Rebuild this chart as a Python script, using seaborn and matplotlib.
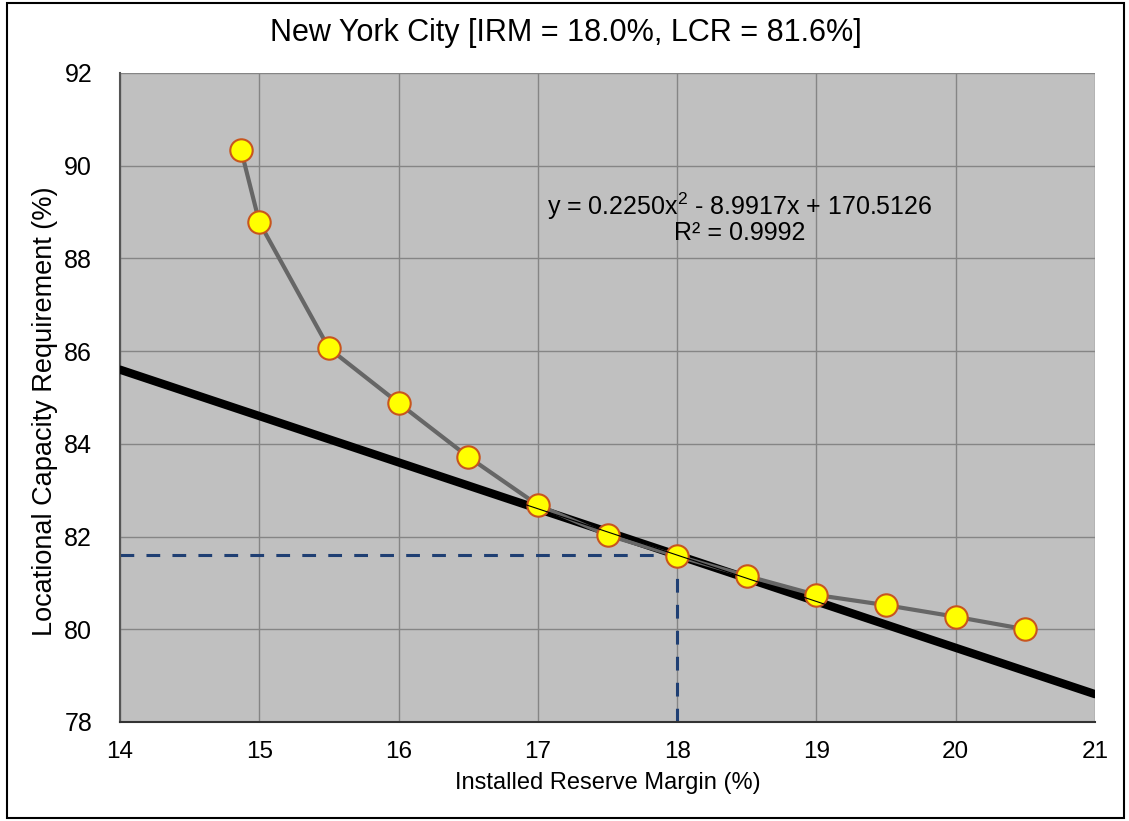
import matplotlib
matplotlib.use("Agg")
import matplotlib.pyplot as plt
import seaborn as sns
import pandas as pd

# Data
irm = [14.87, 15.0, 15.5, 16.0, 16.5, 17.0, 17.5, 18.0, 18.5, 19.0, 19.5, 20.0, 20.5]
lcr = [90.33, 88.78, 86.06, 84.88, 83.72, 82.68, 82.03, 81.58, 81.15, 80.74, 80.52, 80.27, 80.0]
tangent_x = [14.0, 21.0]
tangent_y = [85.6, 78.6]
irm_point = 18.0
lcr_point = 81.6
x_ticks = [14, 15, 16, 17, 18, 19, 20, 21]
y_ticks = [78, 80, 82, 84, 86, 88, 90, 92]
title = "New York City [IRM = 18.0%, LCR = 81.6%]"
equation = "y = 0.2250x$^2$ - 8.9917x + 170.5126\nR² = 0.9992"

df = pd.DataFrame({"IRM": irm, "LCR": lcr})
tan_df = pd.DataFrame({"x": tangent_x, "y": tangent_y})

sns.set_theme(style="white")
plt.rcParams["font.family"] = ["Liberation Sans", "DejaVu Sans"]
plt.rcParams["mathtext.fontset"] = "custom"
plt.rcParams["mathtext.rm"] = "Liberation Sans"
plt.rcParams["text.color"] = "black"
plt.rcParams["axes.labelcolor"] = "black"
plt.rcParams["xtick.color"] = "black"
plt.rcParams["ytick.color"] = "black"

fig = plt.figure(figsize=(11.29, 8.21), dpi=100)
fig.patch.set_facecolor("white")
ax = fig.add_axes([0.1063, 0.1206, 0.8636, 0.7905])
ax.set_facecolor("#C0C0C0")

# border around the whole figure
fig.add_artist(plt.Rectangle((0.006, 0.004), 0.99, 0.992, transform=fig.transFigure,
                             fill=False, edgecolor="black", linewidth=1.5))

# dashed reference lines
ax.plot([x_ticks[0], irm_point], [lcr_point, lcr_point], color="#1F3F73",
        linestyle=(0, (4.5, 4)), linewidth=2.2, zorder=2)
ax.plot([irm_point, irm_point], [y_ticks[0], lcr_point], color="#1F3F73",
        linestyle=(0, (4.5, 4)), linewidth=2.2, zorder=2)

# thick tangent line
sns.lineplot(data=tan_df, x="x", y="y", ax=ax, color="black", linewidth=6, zorder=3)

# connecting gray line
sns.lineplot(data=df, x="IRM", y="LCR", ax=ax, color="#666666", linewidth=3,
             sort=False, zorder=4)
# markers
sns.scatterplot(data=df, x="IRM", y="LCR", ax=ax, s=260, color="#FFFF00",
                edgecolor="#C8551E", linewidth=1.5, zorder=5)
# thin trend line over markers
sns.lineplot(data=tan_df, x="x", y="y", ax=ax, color="black", linewidth=0.8, zorder=6)

ax.set_xlim(x_ticks[0], x_ticks[-1])
ax.set_ylim(y_ticks[0], y_ticks[-1])
ax.set_xticks(x_ticks)
ax.set_yticks(y_ticks)
ax.set_xticklabels([str(t) for t in x_ticks], fontsize=17.5)
ax.set_yticklabels([str(t) for t in y_ticks], fontsize=18)
ax.tick_params(axis="x", length=0, pad=14)
ax.tick_params(axis="y", length=0, pad=20)
ax.grid(True, color="#858585", linewidth=1)
ax.set_axisbelow(True)

for s in ["top", "right"]:
    ax.spines[s].set_visible(False)
ax.spines["left"].set_color("#555555")
ax.spines["bottom"].set_color("#333333")
ax.spines["left"].set_linewidth(1.5)
ax.spines["bottom"].set_linewidth(1.5)

ax.set_xlabel("Installed Reserve Margin (%)", fontsize=17, labelpad=6)
ax.set_ylabel("Locational Capacity Requirement (%)", fontsize=19.5, va="center")
ax.yaxis.set_label_coords(-0.077, 0.479)

fig.text(0.5014, 0.96, title, ha="center", va="center", fontsize=22)

ax.text(18.45, 88.87, equation, ha="center", va="center", fontsize=18,
        multialignment="center", linespacing=0.95, zorder=7)

fig.savefig("out.png", dpi=100)
